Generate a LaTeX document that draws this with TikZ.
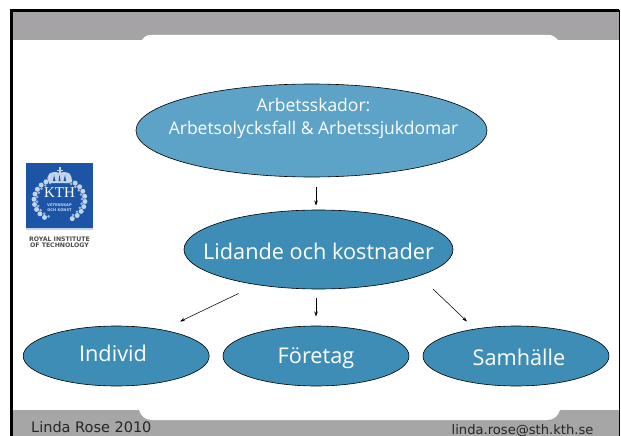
\documentclass[tikz,border=0pt]{standalone}
\usepackage{fontspec}
\setmainfont{Open Sans}
\newfontfamily\footfont{DejaVu Sans}
\newfontfamily\logofont{Liberation Serif}
\usetikzlibrary{arrows.meta,shapes.geometric}
\definecolor{band}{HTML}{A5A3A5}
\definecolor{bandb}{HTML}{A6A6A6}
\definecolor{blueA}{HTML}{5CA3C7}
\definecolor{blueB}{HTML}{3E8DB6}
\definecolor{kth}{HTML}{1D55A6}
\definecolor{kthl}{HTML}{C3D3EA}
\tikzset{
 oval/.style={ellipse,draw=black,line width=0.6pt,inner sep=0pt,outer sep=0pt},
 label text/.style={text=white,inner sep=0pt,align=center,font=\fontsize{21.7}{21.7}\selectfont},
 link/.style={draw=black,line width=0.55pt,-{Stealth[length=5pt,width=3.5pt]}},
 foot/.style={text=black!85,anchor=base west,inner sep=0pt}
}
\begin{document}
\begin{tikzpicture}[x=1pt,y=-1pt]
\useasboundingbox (0,0) rectangle (621,436);
\fill[white] (0,0) rectangle (621,436);
% bands
\fill[band] (11,10) rectangle (619,40);
\fill[bandb] (11,410) rectangle (619,436);
\fill[white] (142,40) .. controls (145,36) and (147,35) .. (151,35) -- (549,35) .. controls (553,35) and (555,37) .. (558,40) -- cycle;
\fill[white] (139,410) .. controls (141,416) and (145,420) .. (152,420) -- (547,420) .. controls (554,420) and (558,416) .. (560,410) -- cycle;
% frame
\draw[black,line width=2.6pt] (11.5,436) -- (11.5,10.5) -- (619,10.5);
\draw[black,line width=1.2pt] (619.5,10) -- (619.5,436);
% logo
\fill[kth] (26,163) rectangle (93,228);
\fill[kthl] (26,228) rectangle (93,230);
\begin{scope}[shift={(59.5,200)}]
 \foreach \a in {-60,-46,...,240} {
   \fill[kthl] ({25.5*cos(\a)},{-21.5*sin(\a)}) circle (2.5pt);
   \fill[kthl!80!kth] ({22.5*cos(\a+7)},{-18.8*sin(\a+7)}) circle (1.4pt);
 }
 % crown
 \fill[kthl] (-10,-17) .. controls (-16,-25) and (-8,-30) .. (0,-27) .. controls (8,-30) and (16,-25) .. (10,-17) -- cycle;
 \fill[kth] (-6.5,-19) -- (-5.5,-25) -- (-4,-19) -- cycle;
 \fill[kth] (-1,-19) -- (0,-25.5) -- (1,-19) -- cycle;
 \fill[kth] (4,-19) -- (5.5,-25) -- (6.5,-19) -- cycle;
 \fill[kthl] (-1,-26) rectangle (1,-33);
 \fill[kthl] (-3,-30.5) rectangle (3,-29);
 \node (kthname) at (0,-7) [inner sep=0pt,text=white,font=\logofont\fontsize{15}{15}\selectfont] {KTH};
 \node (kthsub) at (0,7.5) [inner sep=0pt,text=kthl,align=center,font=\footfont\bfseries\fontsize{3.7}{5.6}\selectfont] {VETENSKAP\\OCH KONST};
\end{scope}
\node (royal) at (59.5,242.5) [inner sep=0pt,text=black!70,align=center,font=\footfont\bfseries\fontsize{6.2}{6}\selectfont] {ROYAL INSTITUTE\\OF TECHNOLOGY};
% ovals
\node[oval,fill=blueA,minimum width=351pt,minimum height=93pt] (top) at (311.5,130.5) {};
\node[label text,font=\fontsize{17.5}{23}\selectfont] (toptext) at (313.5,118) {Arbetsskador:\\Arbetsolycksfall \& Arbetssjukdomar};
\node[oval,fill=blueB,minimum width=269pt,minimum height=79pt] (mid) at (318.5,249.5) {};
\node[label text] (midtext) at (318.5,251) {Lidande och kostnader};
\node[oval,fill=blueB,minimum width=186pt,minimum height=60pt] (ind) at (116.2,356) {};
\node[label text] (indtext) at (113,353.5) {Individ};
\node[oval,fill=blueB,minimum width=186pt,minimum height=60pt] (for) at (316,356) {};
\node[label text] (fortext) at (316,358.5) {Företag};
\node[oval,fill=blueB,minimum width=186pt,minimum height=60pt] (sam) at (516,356) {};
\node[label text] (samtext) at (519,357) {Samhälle};
% connectors
\coordinate (a0) at (316,187); \coordinate (a1) at (316,205.5);
\coordinate (b0) at (238.5,293.5); \coordinate (b1) at (180,321.5);
\coordinate (c0) at (316,298); \coordinate (c1) at (316,316.5);
\coordinate (d0) at (433,289); \coordinate (d1) at (467,321.5);
\draw[link] (a0) -- (a1);
\draw[link] (b0) -- (b1);
\draw[link] (c0) -- (c1);
\draw[link] (d0) -- (d1);
% footer
\node[foot,font=\footfont\fontsize{14.5}{14.5}\selectfont] (f1) at (31,432) {Linda Rose 2010};
\node[foot,font=\footfont\fontsize{13.1}{13.1}\selectfont] (f2) at (451.5,434) {linda.rose@sth.kth.se};
\end{tikzpicture}
\end{document}
